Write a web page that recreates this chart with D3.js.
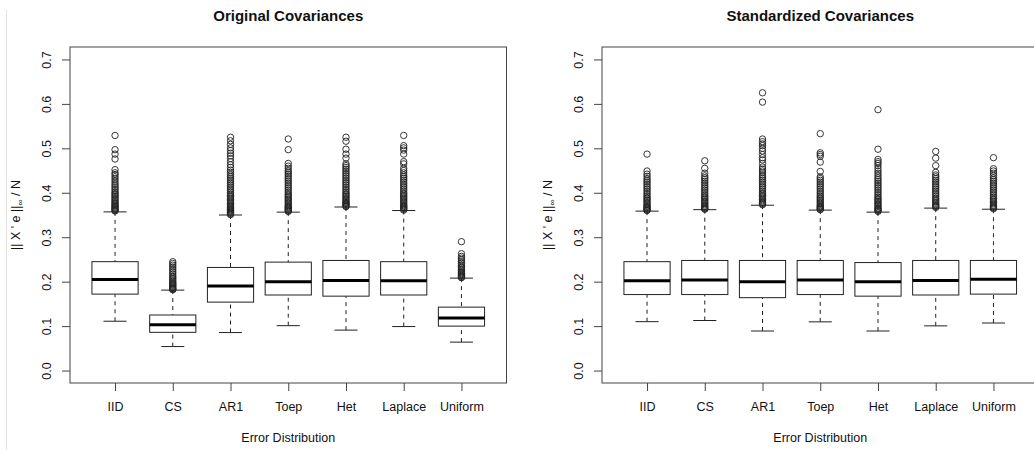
<!DOCTYPE html>
<html>
<head>
<meta charset="utf-8">
<script src="https://cdn.jsdelivr.net/npm/d3@7"></script>
<style>
  html, body { margin: 0; padding: 0; background: #fff; }
  svg { display: block; }
  text { font-family: "Liberation Sans", Arial, Helvetica, sans-serif; fill: #111; }
</style>
</head>
<body>
<svg id="chart" width="1034" height="450"></svg>
<script>
// Error distributions along the x axis
const categories = ["IID", "CS", "AR1", "Toep", "Het", "Laplace", "Uniform"];
const yTicks = [0.0, 0.1, 0.2, 0.3, 0.4, 0.5, 0.6, 0.7];

// Panel 1: original covariances (five-number summaries)
const origLow    = [0.111, 0.054, 0.0855, 0.101, 0.091, 0.099, 0.064];
const origQ1     = [0.172, 0.086, 0.154, 0.170, 0.1674, 0.170, 0.100];
const origMedian = [0.205, 0.103, 0.190, 0.200, 0.2026, 0.202, 0.118];
const origQ3     = [0.245, 0.125, 0.232, 0.244, 0.2477, 0.245, 0.1427];
const origHigh   = [0.357, 0.181, 0.350, 0.3565, 0.368, 0.360, 0.208];
const origOutliers = [
  [0.529, 0.497, 0.487, 0.476, 0.452, 0.445, 0.441, 0.436, 0.431, 0.426, 0.421, 0.417, 0.413, 0.409, 0.405, 0.401, 0.398, 0.395, 0.392, 0.389, 0.386, 0.383, 0.380, 0.377, 0.375, 0.372, 0.370, 0.368, 0.366, 0.364, 0.362, 0.360, 0.359],
  [0.245, 0.241, 0.237, 0.233, 0.229, 0.225, 0.221, 0.217, 0.213, 0.210, 0.207, 0.204, 0.201, 0.198, 0.196, 0.194, 0.192, 0.190, 0.188, 0.186, 0.184, 0.183, 0.182],
  [0.525, 0.517, 0.509, 0.501, 0.495, 0.489, 0.483, 0.477, 0.470, 0.463, 0.457, 0.451, 0.446, 0.441, 0.437, 0.433, 0.429, 0.425, 0.421, 0.417, 0.413, 0.409, 0.405, 0.401, 0.397, 0.394, 0.391, 0.388, 0.385, 0.382, 0.379, 0.376, 0.373, 0.370, 0.368, 0.366, 0.364, 0.362, 0.360, 0.358, 0.356, 0.354, 0.352, 0.351],
  [0.521, 0.497, 0.466, 0.460, 0.455, 0.450, 0.446, 0.442, 0.438, 0.434, 0.430, 0.426, 0.422, 0.418, 0.414, 0.410, 0.406, 0.402, 0.398, 0.395, 0.392, 0.389, 0.386, 0.383, 0.380, 0.377, 0.374, 0.371, 0.369, 0.367, 0.365, 0.363, 0.361, 0.359, 0.358],
  [0.525, 0.516, 0.498, 0.487, 0.478, 0.465, 0.461, 0.457, 0.453, 0.449, 0.445, 0.441, 0.437, 0.433, 0.429, 0.425, 0.421, 0.417, 0.413, 0.409, 0.405, 0.401, 0.398, 0.395, 0.392, 0.389, 0.386, 0.383, 0.380, 0.378, 0.376, 0.374, 0.372, 0.370, 0.369],
  [0.529, 0.506, 0.501, 0.496, 0.487, 0.470, 0.465, 0.455, 0.450, 0.445, 0.440, 0.436, 0.432, 0.428, 0.424, 0.420, 0.416, 0.412, 0.408, 0.404, 0.400, 0.397, 0.394, 0.391, 0.388, 0.385, 0.382, 0.379, 0.376, 0.373, 0.371, 0.369, 0.367, 0.365, 0.363, 0.361],
  [0.290, 0.263, 0.257, 0.253, 0.249, 0.245, 0.241, 0.237, 0.234, 0.231, 0.228, 0.225, 0.222, 0.220, 0.218, 0.216, 0.214, 0.212, 0.210, 0.209]
];

// Panel 2: standardized covariances
const stdLow    = [0.110, 0.1126, 0.089, 0.1096, 0.089, 0.1006, 0.107];
const stdQ1     = [0.171, 0.171, 0.164, 0.171, 0.1674, 0.170, 0.172];
const stdMedian = [0.202, 0.204, 0.200, 0.204, 0.1996, 0.2026, 0.2057];
const stdQ3     = [0.245, 0.2477, 0.2477, 0.2477, 0.243, 0.2477, 0.2477];
const stdHigh   = [0.3587, 0.362, 0.372, 0.361, 0.3565, 0.3655, 0.363];
const stdOutliers = [
  [0.487, 0.449, 0.442, 0.437, 0.432, 0.428, 0.424, 0.420, 0.416, 0.412, 0.408, 0.404, 0.400, 0.396, 0.392, 0.389, 0.386, 0.383, 0.380, 0.377, 0.374, 0.371, 0.369, 0.367, 0.365, 0.363, 0.361, 0.360],
  [0.472, 0.455, 0.444, 0.438, 0.434, 0.430, 0.426, 0.422, 0.418, 0.414, 0.410, 0.406, 0.402, 0.398, 0.394, 0.391, 0.388, 0.385, 0.382, 0.379, 0.376, 0.373, 0.370, 0.368, 0.366, 0.364, 0.363],
  [0.625, 0.604, 0.521, 0.515, 0.510, 0.506, 0.500, 0.494, 0.486, 0.479, 0.474, 0.466, 0.458, 0.453, 0.449, 0.445, 0.440, 0.436, 0.432, 0.428, 0.424, 0.420, 0.416, 0.412, 0.408, 0.404, 0.400, 0.397, 0.394, 0.391, 0.388, 0.385, 0.382, 0.379, 0.377, 0.375, 0.373],
  [0.533, 0.490, 0.486, 0.482, 0.469, 0.448, 0.436, 0.432, 0.428, 0.424, 0.420, 0.416, 0.412, 0.408, 0.404, 0.400, 0.396, 0.392, 0.389, 0.386, 0.383, 0.380, 0.377, 0.374, 0.371, 0.369, 0.367, 0.365, 0.363, 0.362],
  [0.587, 0.498, 0.475, 0.470, 0.466, 0.461, 0.455, 0.449, 0.444, 0.439, 0.434, 0.430, 0.426, 0.422, 0.418, 0.414, 0.410, 0.406, 0.402, 0.398, 0.394, 0.390, 0.387, 0.384, 0.381, 0.378, 0.375, 0.372, 0.369, 0.366, 0.364, 0.362, 0.360, 0.358],
  [0.493, 0.478, 0.461, 0.446, 0.440, 0.436, 0.432, 0.428, 0.424, 0.420, 0.416, 0.412, 0.408, 0.404, 0.400, 0.396, 0.392, 0.388, 0.385, 0.382, 0.379, 0.376, 0.373, 0.371, 0.369, 0.367],
  [0.479, 0.454, 0.449, 0.444, 0.439, 0.434, 0.430, 0.426, 0.422, 0.418, 0.414, 0.410, 0.406, 0.402, 0.398, 0.394, 0.390, 0.387, 0.384, 0.381, 0.378, 0.375, 0.372, 0.370, 0.368, 0.366, 0.364]
];

const panels = [
  { title: "Original Covariances", left: 70, low: origLow, q1: origQ1, med: origMedian, q3: origQ3, high: origHigh, out: origOutliers },
  { title: "Standardized Covariances", left: 602, low: stdLow, q1: stdQ1, med: stdMedian, q3: stdQ3, high: stdHigh, out: stdOutliers }
];

const svg = d3.select("#chart");
const plotW = 436.5, plotTop = 47, plotBottom = 383;
const ink = "#222";

// faint window edge at the far left
svg.append("line").attr("x1", 6.5).attr("x2", 6.5).attr("y1", 10).attr("y2", 450)
  .attr("stroke", "#e2e2e2").attr("stroke-width", 1);

const y = d3.scaleLinear().domain([-0.028, 0.728]).range([plotBottom, plotTop]);

panels.forEach(p => {
  const g = svg.append("g");
  const x = d3.scalePoint().domain(categories).range([p.left, p.left + plotW]).padding(0.78);
  const step = x.step();
  const boxW = step * 0.8, capW = boxW * 0.5;

  // title
  g.append("text").attr("x", p.left + plotW / 2).attr("y", 21)
    .attr("text-anchor", "middle").attr("font-weight", "bold").attr("font-size", 15)
    .text(p.title);

  // y axis
  const ya = g.append("g").attr("transform", `translate(${p.left},0)`)
    .call(d3.axisLeft(y).tickValues(yTicks).tickSize(8).tickFormat(d3.format(".1f")));
  ya.select(".domain").remove();
  ya.selectAll(".tick line").attr("stroke", "#444");
  ya.selectAll(".tick text")
    .attr("x", 0).attr("y", 0).attr("dy", 0)
    .attr("transform", "translate(-19,0) rotate(-90)")
    .attr("text-anchor", "middle").attr("font-size", 12.5)
    .attr("font-family", "Liberation Sans, Arial, sans-serif").attr("fill", "#111");

  // x axis
  const xa = g.append("g").attr("transform", `translate(0,${plotBottom})`)
    .call(d3.axisBottom(x).tickSize(8));
  xa.select(".domain").remove();
  xa.selectAll(".tick line").attr("stroke", "#444");
  xa.selectAll(".tick text").attr("y", 28).attr("dy", 0).attr("font-size", 12.5)
    .attr("font-family", "Liberation Sans, Arial, sans-serif").attr("fill", "#111");

  // axis titles
  g.append("text").attr("x", p.left + plotW / 2).attr("y", 442)
    .attr("text-anchor", "middle").attr("font-size", 12.5).text("Error Distribution");
  const yl = g.append("text")
    .attr("transform", `translate(${p.left - 50},${(plotTop + plotBottom) / 2}) rotate(-90)`)
    .attr("text-anchor", "middle").attr("font-size", 12.5);
  yl.append("tspan").text("|| X ' e ||");
  yl.append("tspan").attr("font-size", 8.5).attr("dy", 3).text("\u221E");
  yl.append("tspan").attr("dy", -3).text(" / N");

  // boxes
  const bx = g.append("g");
  categories.forEach((c, i) => {
    const cx = x(c);
    // whiskers
    [[p.low[i], p.q1[i]], [p.high[i], p.q3[i]]].forEach(([a, b]) => {
      bx.append("line").attr("x1", cx).attr("x2", cx).attr("y1", y(a)).attr("y2", y(b))
        .attr("stroke", ink).attr("stroke-width", 1).attr("stroke-dasharray", "4,4");
      bx.append("line").attr("x1", cx - capW / 2).attr("x2", cx + capW / 2)
        .attr("y1", y(a)).attr("y2", y(a)).attr("stroke", ink).attr("stroke-width", 1);
    });
    bx.append("rect").attr("x", cx - boxW / 2).attr("width", boxW)
      .attr("y", y(p.q3[i])).attr("height", y(p.q1[i]) - y(p.q3[i]))
      .attr("fill", "#fff").attr("stroke", ink).attr("stroke-width", 1);
    bx.append("line").attr("x1", cx - boxW / 2).attr("x2", cx + boxW / 2)
      .attr("y1", y(p.med[i])).attr("y2", y(p.med[i]))
      .attr("stroke", "#000").attr("stroke-width", 3);
    bx.selectAll(null).data(p.out[i]).enter().append("circle")
      .attr("cx", cx).attr("cy", d => y(d)).attr("r", 3.2)
      .attr("fill", "none").attr("stroke", ink).attr("stroke-width", 0.9);
  });

  // plot frame
  g.append("rect").attr("x", p.left).attr("y", plotTop).attr("width", plotW).attr("height", plotBottom - plotTop)
    .attr("fill", "none").attr("stroke", "#444").attr("stroke-width", 1);
});
</script>
</body>
</html>
